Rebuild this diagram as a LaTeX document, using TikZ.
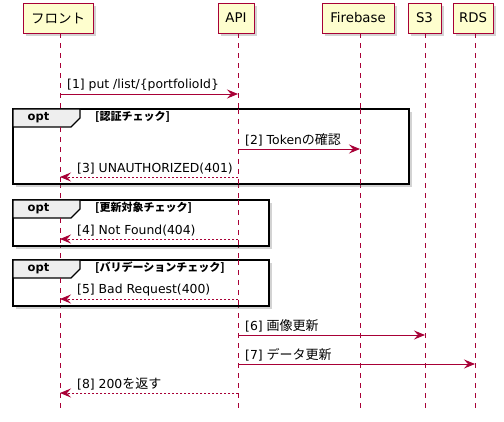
\documentclass[tikz,border=0pt]{standalone}
\usepackage{fontspec}
\setmainfont{DejaVu Sans}
\newfontfamily\cjk{Noto Sans CJK JP}
\usetikzlibrary{arrows.meta,shadows}
\definecolor{pline}{HTML}{A80036}
\definecolor{pfill}{HTML}{FEFECE}
\definecolor{tabfill}{HTML}{EEEEEE}
\tikzset{
  part/.style={draw=pline,fill=pfill,line width=0.9pt,minimum height=30pt,inner sep=0pt,font=\fontsize{13.3}{15}\selectfont,
    drop shadow={shadow xshift=3pt,shadow yshift=-3pt,opacity=0.35}},
  life/.style={draw=pline,line width=0.7pt,dash pattern=on 5pt off 5pt},
  msg/.style={draw=pline,line width=0.9pt,-{Stealth[length=11pt,width=9pt,inset=4pt]}},
  ret/.style={msg,dash pattern=on 2pt off 2pt},
  lbl/.style={font=\fontsize{12.4}{14}\selectfont,anchor=south west,inner sep=0pt},
  frm/.style={draw=black,line width=1.6pt,drop shadow={shadow xshift=3pt,shadow yshift=-3pt,opacity=0.35}},
  tab/.style={draw=black,line width=1.2pt,fill=tabfill},
  optl/.style={font=\bfseries\fontsize{11.5}{14}\selectfont,inner sep=0pt},
  ftitle/.style={font=\cjk\bfseries\fontsize{11}{13}\selectfont,anchor=west,inner sep=0pt},
}
\begin{document}
\begin{tikzpicture}[x=1pt,y=-1pt]
\useasboundingbox (0,0) rectangle (504,422);
% participants
\node[part,minimum width=70pt] (front) at (58,18) {\cjk\fontsize{13.5}{15}\selectfont フロント};
\node[part,minimum width=36pt] (api) at (236,18) {API};
\node[part,minimum width=72pt] (fb) at (358,18) {Firebase};
\node[part,minimum width=33pt] (s3) at (424.5,18) {S3};
\node[part,minimum width=40pt] (rds) at (473,18) {RDS};
% lifelines
\coordinate (frontE) at (60,411);
\coordinate (apiE) at (238,411);
\coordinate (fbE) at (360,411);
\coordinate (s3E) at (425,411);
\coordinate (rdsE) at (475,411);
\draw[life] (frontE |- front.south) -- (frontE);
\draw[life] (apiE |- api.south) -- (apiE);
\draw[life] (fbE |- fb.south) -- (fbE);
\draw[life] (s3E |- s3.south) -- (s3E);
\draw[life] (rdsE |- rds.south) -- (rdsE);
% frames
\draw[frm,fill=white] (13,109) rectangle (409,184);
\draw[tab] (13,109) -- (80,109) -- (80,118) -- (71,127) -- (13,127) -- cycle;
\node[optl] (o1) at (38.5,118) {opt};
\node[ftitle] (t1) at (95,117) {[認証チェック]};
\draw[frm,fill=white] (13,200) rectangle (269,246);
\draw[tab] (13,200) -- (80,200) -- (80,209) -- (71,218) -- (13,218) -- cycle;
\node[optl] (o2) at (38.5,209) {opt};
\node[ftitle] (t2) at (95,208) {[更新対象チェック]};
\draw[frm,fill=white] (13,260) rectangle (269,306);
\draw[tab] (13,260) -- (80,260) -- (80,269) -- (71,278) -- (13,278) -- cycle;
\node[optl] (o3) at (38.5,269) {opt};
\node[ftitle] (t3) at (95,268) {[バリデーションチェック]};
% redraw lifelines over frame fill
\draw[life] (60,127) -- (60,184);
\draw[life] (238,109) -- (238,184);
\draw[life] (360,109) -- (360,184);
\draw[life] (60,218) -- (60,246);
\draw[life] (238,200) -- (238,246);
\draw[life] (60,278) -- (60,306);
\draw[life] (238,260) -- (238,306);
% messages
\draw[msg] (frontE |- 0,94) -- (apiE |- 0,94);
\node[lbl] (m1) at (67,91) {[1] put /list/\{portfolioId\}};
\draw[msg] (apiE |- 0,149) -- (fbE |- 0,149);
\node[lbl] (m2) at (245,146) {[2] Token{\cjk\fontsize{13}{14}\selectfont の確認}};
\draw[ret] (apiE |- 0,177) -- (frontE |- 0,177);
\node[lbl] (m3) at (77,174) {[3] UNAUTHORIZED(401)};
\draw[ret] (apiE |- 0,239) -- (frontE |- 0,239);
\node[lbl] (m4) at (77,236) {[4] Not Found(404)};
\draw[ret] (apiE |- 0,299) -- (frontE |- 0,299);
\node[lbl] (m5) at (77,296) {[5] Bad Request(400)};
\draw[msg] (apiE |- 0,335) -- (s3E |- 0,335);
\node[lbl] (m6) at (245,332) {[6] {\cjk\fontsize{13}{14}\selectfont 画像更新}};
\draw[msg] (apiE |- 0,364) -- (rdsE |- 0,364);
\node[lbl] (m7) at (245,361) {[7] {\cjk\fontsize{13}{14}\selectfont データ更新}};
\draw[ret] (apiE |- 0,393) -- (frontE |- 0,393);
\node[lbl] (m8) at (77,390) {[8] 200{\cjk\fontsize{13}{14}\selectfont を返す}};
\end{tikzpicture}
\end{document}
